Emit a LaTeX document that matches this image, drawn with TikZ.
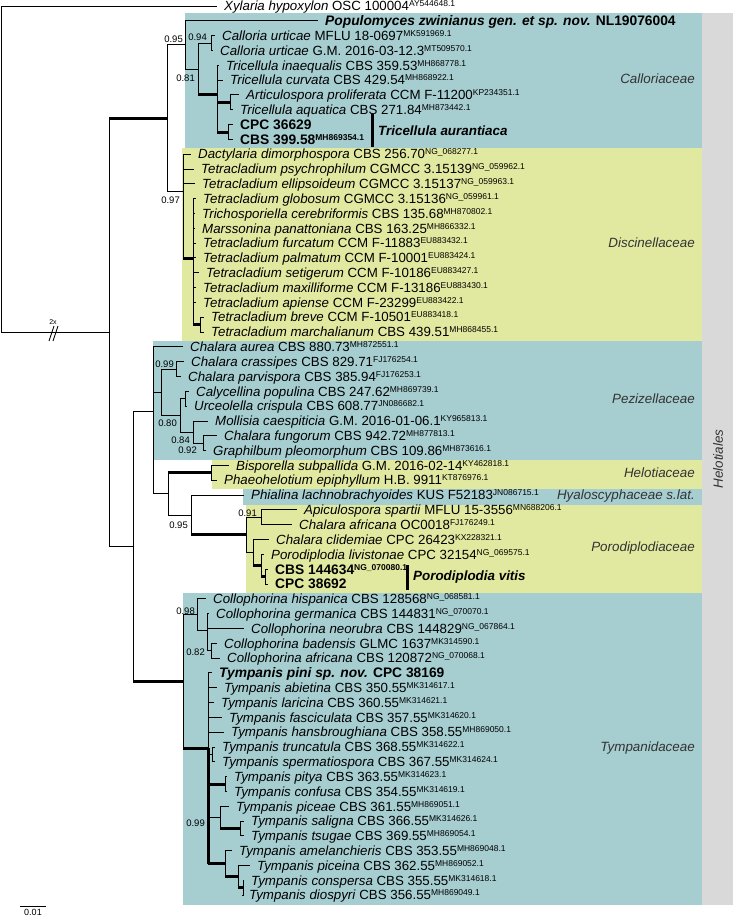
\documentclass[tikz,border=0pt]{standalone}
\usepackage{fontspec}
\setmainfont{Liberation Sans}
\usepackage{tikz}
\usetikzlibrary{positioning}
\definecolor{cladeblue}{RGB}{166,205,208}
\definecolor{cladeyellow}{RGB}{225,233,160}
\definecolor{ordergray}{RGB}{217,217,217}
\newcommand{\gb}[1]{\raisebox{4pt}{\fontsize{8.5}{8.5}\selectfont #1}}
\tikzstyle{taxon} = [anchor=west, inner xsep=7pt, inner ysep=0pt, text height=9.5pt, text depth=0pt, font=\fontsize{13.3}{13.3}\selectfont]
\tikzstyle{newtaxon} = [taxon, text height=9.9pt, font=\fontsize{13.8}{13.8}\selectfont\bfseries]
\tikzstyle{pp} = [anchor=east, inner sep=0pt, font=\fontsize{9.5}{9.5}\selectfont]
\tikzstyle{family} = [anchor=east, inner sep=0pt, text=black!80, font=\fontsize{13.4}{13.4}\selectfont\itshape]
\tikzstyle{species} = [anchor=west, inner sep=0pt, font=\fontsize{13.4}{13.4}\selectfont\bfseries\itshape]
\tikzstyle{br} = [draw, line width=0.9pt]
\tikzstyle{pp1} = [draw, line width=3pt]

\begin{document}
\begin{tikzpicture}[x=1pt, y=-1pt]
\useasboundingbox (0,0) rectangle (734,918);

% clade boxes =============================
\fill[cladeblue] (185,13) rectangle (702,148);
\fill[cladeyellow] (182,148) rectangle (702,341);
\fill[cladeblue] (153,341) rectangle (702,460);
\fill[cladeyellow] (212,460) rectangle (702,489);
\fill[cladeblue] (243,489) rectangle (702,505);
\fill[cladeyellow] (246,505) rectangle (702,593);
\fill[cladeblue] (183,593) rectangle (702,905);
\fill[ordergray] (702,13) rectangle (733,905);

% internal nodes ==========================
\coordinate (nRoot) at (1,169);
\coordinate (nIngroup) at (109,332.2);
\coordinate (nCalDis) at (167,118.2);
\coordinate (nCallo) at (185,44.9);
\coordinate (nB) at (198,69.0);
\coordinate (nCurt) at (211,43.05);
\coordinate (nD) at (217,94.9);
\coordinate (nE) at (230,102.3);
\coordinate (nF) at (228,132);
\coordinate (nDisc) at (183,191.5);
\coordinate (nG) at (193,258.8);
\coordinate (nH) at (200,324.6);
\coordinate (nLower) at (133,546.2);
\coordinate (nN2) at (153,411);
\coordinate (nK) at (161,392.25);
\coordinate (nCr) at (176,369.1);
\coordinate (nM) at (180,415.4);
\coordinate (nCU) at (185,398.7);
\coordinate (nI) at (193,432.1);
\coordinate (nJ) at (203,443.2);
\coordinate (nV) at (168,493.9);
\coordinate (nHel) at (211,472.8);
\coordinate (nU) at (191,515);
\coordinate (nQ) at (246,534.9);
\coordinate (nApic) at (261,517.3);
\coordinate (nR) at (253,552.5);
\coordinate (nS) at (261,565.45);
\coordinate (nT) at (265,576.6);
\coordinate (nTymp) at (183,681.4);
\coordinate (nX) at (197,614.85);
\coordinate (nY) at (207,630.9);
\coordinate (nZ) at (211,650.7);
\coordinate (nAA) at (208,748);
\coordinate (nTS) at (212,754.4);
\coordinate (nPC) at (225,784.05);
\coordinate (nPST) at (220,817.4);
\coordinate (nST) at (240,828.5);
\coordinate (nCC) at (225,863.7);
\coordinate (nDD) at (238,876.7);
\coordinate (nEE) at (243,887.8);

% taxa ====================================
\node[taxon] (Xhyp) at (217,6.0) {\textit{Xylaria hypoxylon} OSC 100004\gb{AY544648.1}};
\node[newtaxon] (Pzwi) at (318,20.8) {\textit{Populomyces zwinianus gen. et sp. nov.} NL19076004};
\node[taxon] (Curt1) at (215,35.6) {\textit{Calloria urticae} MFLU 18-0697\gb{MK591969.1}};
\node[taxon] (Curt2) at (213,50.5) {\textit{Calloria urticae} G.M. 2016-03-12.3\gb{MT509570.1}};
\node[taxon] (Tina) at (219,65.3) {\textit{Tricellula inaequalis} CBS 359.53\gb{MH868778.1}};
\node[taxon] (Tcur) at (223,80.1) {\textit{Tricellula curvata} CBS 429.54\gb{MH868922.1}};
\node[taxon] (Apro) at (239,94.9) {\textit{Articulospora proliferata} CCM F-11200\gb{KP234351.1}};
\node[taxon] (Taqu) at (233,109.7) {\textit{Tricellula aquatica} CBS 271.84\gb{MH873442.1}};
\node[newtaxon] (Cpc36629) at (233,124.6) {CPC 36629};
\node[newtaxon] (Cbs39958) at (233,139.4) {CBS 399.58\gb{MH869354.1}};
\node[taxon] (Ddim) at (191,154.2) {\textit{Dactylaria dimorphospora} CBS 256.70\gb{NG\_068277.1}};
\node[taxon] (Tpsy) at (194,169.0) {\textit{Tetracladium psychrophilum} CGMCC 3.15139\gb{NG\_059962.1}};
\node[taxon] (Tell) at (195,183.8) {\textit{Tetracladium ellipsoideum} CGMCC 3.15137\gb{NG\_059963.1}};
\node[taxon] (Tglo) at (196,198.7) {\textit{Tetracladium globosum} CGMCC 3.15136\gb{NG\_059961.1}};
\node[taxon] (Tcer) at (195,213.5) {\textit{Trichosporiella cerebriformis} CBS 135.68\gb{MH870802.1}};
\node[taxon] (Mpan) at (195,228.3) {\textit{Marssonina panattoniana} CBS 163.25\gb{MH866332.1}};
\node[taxon] (Tfur) at (196,243.1) {\textit{Tetracladium furcatum} CCM F-11883\gb{EU883432.1}};
\node[taxon] (Tpal) at (196,257.9) {\textit{Tetracladium palmatum} CCM F-10001\gb{EU883424.1}};
\node[taxon] (Tset) at (199,272.8) {\textit{Tetracladium setigerum} CCM F-10186\gb{EU883427.1}};
\node[taxon] (Tmax) at (196,287.6) {\textit{Tetracladium maxilliforme} CCM F-13186\gb{EU883430.1}};
\node[taxon] (Tapi) at (196,302.4) {\textit{Tetracladium apiense} CCM F-23299\gb{EU883422.1}};
\node[taxon] (Tbre) at (204,317.2) {\textit{Tetracladium breve} CCM F-10501\gb{EU883418.1}};
\node[taxon] (Tmar) at (204,332.0) {\textit{Tetracladium marchalianum} CBS 439.51\gb{MH868455.1}};
\node[taxon] (Caur) at (183,346.9) {\textit{Chalara aurea} CBS 880.73\gb{MH872551.1}};
\node[taxon] (Ccra) at (184,361.7) {\textit{Chalara crassipes} CBS 829.71\gb{FJ176254.1}};
\node[taxon] (Cpar) at (181,376.5) {\textit{Chalara parvispora} CBS 385.94\gb{FJ176253.1}};
\node[taxon] (Cpop) at (189,391.3) {\textit{Calycellina populina} CBS 247.62\gb{MH869739.1}};
\node[taxon] (Ucri) at (187,406.1) {\textit{Urceolella crispula} CBS 608.77\gb{JN086682.1}};
\node[taxon] (Mcae) at (208,421.0) {\textit{Mollisia caespiticia} G.M. 2016-01-06.1\gb{KY965813.1}};
\node[taxon] (Cfun) at (217,435.8) {\textit{Chalara fungorum} CBS 942.72\gb{MH877813.1}};
\node[taxon] (Gple) at (206,450.6) {\textit{Graphilbum pleomorphum} CBS 109.86\gb{MH873616.1}};
\node[taxon] (Bsub) at (229,465.4) {\textit{Bisporella subpallida} G.M. 2016-02-14\gb{KY462818.1}};
\node[taxon] (Pepi) at (217,480.2) {\textit{Phaeohelotium epiphyllum} H.B. 9911\gb{KT876976.1}};
\node[taxon] (Plac) at (244,495.1) {\textit{Phialina lachnobrachyoides} KUS F52183\gb{JN086715.1}};
\node[taxon] (Aspa) at (297,509.9) {\textit{Apiculospora spartii} MFLU 15-3556\gb{MN688206.1}};
\node[taxon] (Cafr) at (292,524.7) {\textit{Chalara africana} OC0018\gb{FJ176249.1}};
\node[taxon] (Ccli) at (269,539.5) {\textit{Chalara clidemiae} CPC 26423\gb{KX228321.1}};
\node[taxon] (Pliv) at (264,554.3) {\textit{Porodiplodia livistonae} CPC 32154\gb{NG\_069575.1}};
\node[newtaxon] (Cbs144634) at (268,569.2) {CBS 144634\gb{NG\_070080.1}};
\node[newtaxon] (Cpc38692) at (268,584.0) {CPC 38692};
\node[taxon] (Chis) at (206,598.8) {\textit{Collophorina hispanica} CBS 128568\gb{NG\_068581.1}};
\node[taxon] (Cger) at (209,613.6) {\textit{Collophorina germanica} CBS 144831\gb{NG\_070070.1}};
\node[taxon] (Cneo) at (244,628.4) {\textit{Collophorina neorubra} CBS 144829\gb{NG\_067864.1}};
\node[taxon] (Cbad) at (217,643.3) {\textit{Collophorina badensis} GLMC 1637\gb{MK314590.1}};
\node[taxon] (Cafi) at (220,658.1) {\textit{Collophorina africana} CBS 120872\gb{NG\_070068.1}};
\node[newtaxon] (Tpin) at (212,672.9) {\textit{Tympanis pini sp. nov.} CPC 38169};
\node[taxon] (Tabi) at (217,687.7) {\textit{Tympanis abietina} CBS 350.55\gb{MK314617.1}};
\node[taxon] (Tlar) at (214,702.5) {\textit{Tympanis laricina} CBS 360.55\gb{MK314621.1}};
\node[taxon] (Tfas) at (222,717.4) {\textit{Tympanis fasciculata} CBS 357.55\gb{MK314620.1}};
\node[taxon] (Than) at (224,732.2) {\textit{Tympanis hansbroughiana} CBS 358.55\gb{MH869050.1}};
\node[taxon] (Ttru) at (215,747.0) {\textit{Tympanis truncatula} CBS 368.55\gb{MK314622.1}};
\node[taxon] (Tspe) at (215,761.8) {\textit{Tympanis spermatiospora} CBS 367.55\gb{MK314624.1}};
\node[taxon] (Tpit) at (227,776.6) {\textit{Tympanis pitya} CBS 363.55\gb{MK314623.1}};
\node[taxon] (Tcon) at (227,791.5) {\textit{Tympanis confusa} CBS 354.55\gb{MK314619.1}};
\node[taxon] (Tpce) at (229,806.3) {\textit{Tympanis piceae} CBS 361.55\gb{MH869051.1}};
\node[taxon] (Tsal) at (244,821.1) {\textit{Tympanis saligna} CBS 366.55\gb{MK314626.1}};
\node[taxon] (Ttsu) at (244,835.9) {\textit{Tympanis tsugae} CBS 369.55\gb{MH869054.1}};
\node[taxon] (Tame) at (232,850.7) {\textit{Tympanis amelanchieris} CBS 353.55\gb{MH869048.1}};
\node[taxon] (Tpcn) at (250,865.6) {\textit{Tympanis piceina} CBS 362.55\gb{MH869052.1}};
\node[taxon] (Tcsp) at (244,880.4) {\textit{Tympanis conspersa} CBS 355.55\gb{MK314618.1}};
\node[taxon] (Tdio) at (242,895.2) {\textit{Tympanis diospyri} CBS 356.55\gb{MH869049.1}};

% branches ================================
\path[br] (nRoot) |- (Xhyp.west);
\path[br] (nRoot) |- (nIngroup);
\path[br] (nIngroup) |- (nCalDis);
\path[pp1] (nIngroup |- nCalDis) -- (nCalDis);
\path[br] (nIngroup) |- (nLower);
\path[br] (nCalDis) |- (nCallo);
\path[br] (nCalDis) |- (nDisc);
\path[br] (nCallo) |- (Pzwi.west);
\path[br] (nCallo) |- (nB);
\path[br] (nB) |- (nCurt);
\path[br] (nB) |- (nD);
\path[pp1] (nB |- nD) -- (nD);
\path[br] (nCurt) |- (Curt1.west);
\path[br] (nCurt) |- (Curt2.west);
\path[br] (nD) |- (Tina.west);
\path[br] (nD) |- (Tcur.west);
\path[br] (nD) |- (nE);
\path[pp1] (nD |- nE) -- (nE);
\path[br] (nD) |- (nF);
\path[pp1] (nD |- nF) -- (nF);
\path[br] (nE) |- (Apro.west);
\path[br] (nE) |- (Taqu.west);
\path[br] (nF) |- (Cpc36629.west);
\path[br] (nF) |- (Cbs39958.west);
\foreach \t in {Ddim,Tpsy,Tell} \path[br] (nDisc) |- (\t.west);
\path[br] (nDisc) |- (nG);
\path[pp1] (nDisc |- nG) -- (nG);
\foreach \t in {Tglo,Tcer,Mpan,Tfur,Tpal,Tset,Tmax,Tapi} \path[br] (nG) |- (\t.west);
\path[br] (nG) |- (nH);
\path[pp1] (nG |- nH) -- (nH);
\path[br] (nH) |- (Tbre.west);
\path[br] (nH) |- (Tmar.west);
\path[br] (nLower) |- (nN2);
\path[br] (nLower) |- (nTymp);
\path[pp1] (nLower |- nTymp) -- (nTymp);
\path[br] (nN2) |- (Caur.west);
\path[br] (nN2) |- (nK);
\path[br] (nN2) |- (nV);
\path[br] (nK) |- (nCr);
\path[br] (nK) |- (nM);
\path[br] (nCr) |- (Ccra.west);
\path[br] (nCr) |- (Cpar.west);
\path[br] (nM) |- (nCU);
\path[br] (nM) |- (nI);
\path[br] (nCU) |- (Cpop.west);
\path[br] (nCU) |- (Ucri.west);
\path[br] (nI) |- (Mcae.west);
\path[br] (nI) |- (nJ);
\path[br] (nJ) |- (Cfun.west);
\path[br] (nJ) |- (Gple.west);
\path[br] (nV) |- (nHel);
\path[pp1] (nV |- nHel) -- (nHel);
\path[br] (nV) |- (nU);
\path[br] (nHel) |- (Bsub.west);
\path[br] (nHel) |- (Pepi.west);
\path[br] (nU) |- (Plac.west);
\path[br] (nU) |- (nQ);
\path[pp1] (nU |- nQ) -- (nQ);
\path[br] (nQ) |- (nApic);
\path[br] (nQ) |- (nR);
\path[br] (nApic) |- (Aspa.west);
\path[br] (nApic) |- (Cafr.west);
\path[br] (nR) |- (Ccli.west);
\path[br] (nR) |- (nS);
\path[pp1] (nR |- nS) -- (nS);
\path[br] (nS) |- (Pliv.west);
\path[br] (nS) |- (nT);
\path[pp1] (nS |- nT) -- (nT);
\path[br] (nT) |- (Cbs144634.west);
\path[br] (nT) |- (Cpc38692.west);
\path[br] (nTymp) |- (nX);
\path[br] (nTymp) |- (nAA);
\path[pp1] (nTymp |- nAA) -- (nAA);
\path[br] (nX) |- (Chis.west);
\path[br] (nX) |- (nY);
\path[br] (nY) |- (Cger.west);
\path[br] (nY) |- (Cneo.west);
\path[br] (nY) |- (nZ);
\path[br] (nZ) |- (Cbad.west);
\path[br] (nZ) |- (Cafi.west);
\foreach \t in {Tpin,Tabi,Tlar,Tfas,Than} \path[br] (nAA) |- (\t.west);
\path[br] (nAA) |- (nTS);
\path[br] (nAA) |- (nPC);
\path[br] (nAA) |- (nPST);
\path[br] (nAA) |- (nCC);
\path[pp1] (nAA) -- (nAA |- nCC);
\path[pp1] (nAA |- nPC) -- (nPC);
\path[pp1] (nAA |- nCC) -- (nCC);
\path[br] (nTS) |- (Ttru.west);
\path[br] (nTS) |- (Tspe.west);
\path[br] (nPC) |- (Tpit.west);
\path[br] (nPC) |- (Tcon.west);
\path[br] (nPST) |- (Tpce.west);
\path[br] (nPST) |- (nST);
\path[pp1] (nPST |- nST) -- (nST);
\path[br] (nST) |- (Tsal.west);
\path[br] (nST) |- (Ttsu.west);
\path[br] (nCC) |- (Tame.west);
\path[br] (nCC) |- (nDD);
\path[pp1] (nCC |- nDD) -- (nDD);
\path[br] (nDD) |- (Tpcn.west);
\path[br] (nDD) |- (nEE);
\path[pp1] (nDD |- nEE) -- (nEE);
\path[br] (nEE) |- (Tcsp.west);
\path[br] (nEE) |- (Tdio.west);

% posterior probabilities =================
\node[pp] (ppCallo) at (183,39) {0.95};
\node[pp] (ppCurt) at (207,37) {0.94};
\node[pp] (ppB) at (195,78) {0.81};
\node[pp] (ppDisc) at (180,200) {0.97};
\node[pp] (ppCr) at (174,364) {0.99};
\node[pp] (ppM) at (177,423) {0.80};
\node[pp] (ppI) at (190,440) {0.84};
\node[pp] (ppJ) at (197,450) {0.92};
\node[pp] (ppU) at (188,525) {0.95};
\node[pp] (ppApic) at (257,513) {0.91};
\node[pp] (ppX) at (195,611) {0.98};
\node[pp] (ppZ) at (205,652) {0.82};
\node[pp] (ppPST) at (205,823) {0.99};

% new species bars ========================
\coordinate (aurTop) at (372,114);
\coordinate (aurBot) at (372,147);
\coordinate (aurMid) at (372,131);
\path[draw, line width=3pt] (aurTop) -- (aurBot);
\node[species, right=6pt of aurMid] (Taur) {Tricellula aurantiaca};
\coordinate (vitTop) at (407,565);
\coordinate (vitBot) at (407,590);
\coordinate (vitMid) at (407,577);
\path[draw, line width=3pt] (vitTop) -- (vitBot);
\node[species, right=6pt of vitMid] (Pvit) {Porodiplodia vitis};

% families ================================
\node[family] (Callo) at (695,79) {Calloriaceae};
\node[family] (Disc) at (695,243) {Discinellaceae};
\node[family] (Pezi) at (695,399) {Pezizellaceae};
\node[family] (Helo) at (695,473) {Helotiaceae};
\node[family] (Hyal) at (695,496) {Hyaloscyphaceae s.lat.};
\node[family] (Poro) at (695,548) {Porodiplodiaceae};
\node[family] (Tymp) at (695,748) {Tympanidaceae};
\node[family, anchor=center, rotate=90] (Helotiales) at (718,459) {Helotiales};

% root break and scale ====================
\node[inner sep=0pt, font=\fontsize{7}{7}\selectfont] (twox) at (53,322) {2x};
\path[draw, line width=0.9pt] (49,341) -- (54,326) (53,341) -- (58,326);
\coordinate (sbL) at (20,906);
\coordinate (sbR) at (46,906);
\path[draw, line width=0.9pt] (sbL) -- (sbR);
\node[anchor=north, inner sep=0pt, font=\fontsize{9}{9}\selectfont] (sbText) at (33,909.5) {0.01};
\end{tikzpicture}
\end{document}
